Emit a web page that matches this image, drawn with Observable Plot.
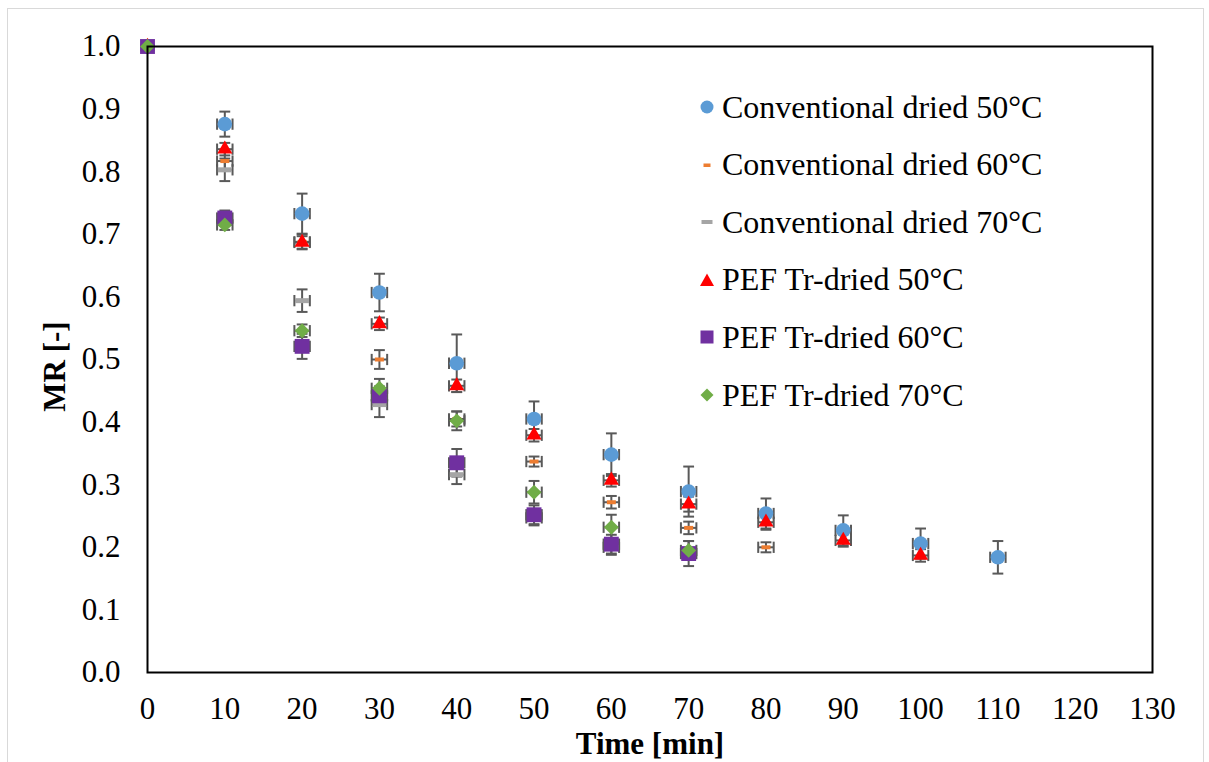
<!DOCTYPE html>
<html>
<head>
<meta charset="utf-8">
<script src="https://cdn.jsdelivr.net/npm/d3@7"></script>
<script src="https://cdn.jsdelivr.net/npm/@observablehq/plot@0.6"></script>
<style>
  html, body { margin: 0; padding: 0; background: #fff; }
  #wrap { position: relative; width: 1209px; height: 762px; font-family: "Liberation Serif", "Times New Roman", serif; }
  #outer { position: absolute; left: 7px; top: 8px; width: 1195px; height: 760px; border: 1px solid #d9d9d9; pointer-events: none; }
  #legend { position: absolute; left: 0; top: 0; }
  .item { position: absolute; left: 696px; height: 40px; display: flex; align-items: center; white-space: nowrap; font-size: 32px; color: #000; font-family: "Liberation Serif", "Times New Roman", serif; }
  .item svg { width: 22px; height: 22px; margin-right: 4px; }
</style>
</head>
<body>
<div id="wrap">
  <div id="chart"></div>
  <div id="legend"></div>
  <div id="outer"></div>
</div>
<script>
// ---- data ----
const times = [0, 10, 20, 30, 40, 50, 60, 70, 80, 90, 100, 110];
const seriesNames = [
  "Conventional dried 50°C",
  "Conventional dried 60°C",
  "Conventional dried 70°C",
  "PEF Tr-dried 50°C",
  "PEF Tr-dried 60°C",
  "PEF Tr-dried 70°C"
];
const conv50 = [1.0, 0.876, 0.733, 0.607, 0.494, 0.405, 0.348, 0.289, 0.254, 0.227, 0.206, 0.184];
const conv50Err = [0, 0.020, 0.032, 0.030, 0.046, 0.028, 0.034, 0.040, 0.024, 0.024, 0.024, 0.026];
const conv60 = [1.0, 0.817, 0.688, 0.500, 0.405, 0.337, 0.272, 0.231, 0.200];
const conv60Err = [0, 0.015, 0.012, 0.015, 0.012, 0.008, 0.010, 0.010, 0.008];
const conv70 = [1.0, 0.803, 0.594, 0.428, 0.316, 0.247, 0.200];
const conv70Err = [0, 0.018, 0.018, 0.020, 0.015, 0.012, 0.012];
const pef50 = [1.0, 0.836, 0.687, 0.557, 0.458, 0.379, 0.307, 0.269, 0.240, 0.211, 0.187];
const pef50Err = [0, 0.010, 0.010, 0.010, 0.010, 0.010, 0.010, 0.012, 0.012, 0.010, 0.010];
const pef60 = [1.0, 0.726, 0.521, 0.442, 0.335, 0.252, 0.205, 0.190];
const pef60Err = [0, 0.012, 0.020, 0.015, 0.022, 0.015, 0.015, 0.020];
const pef70 = [1.0, 0.715, 0.546, 0.454, 0.402, 0.288, 0.232, 0.195];
const pef70Err = [0, 0.008, 0.010, 0.015, 0.015, 0.018, 0.020, 0.015];
const timeErr = 1; // horizontal error (min)
const xTicks = d3.range(0, 131, 10);
const yTicks = d3.range(0, 11).map(i => i / 10);

// ---- styles ----
const colors = ["#5b9bd5", "#ed7d31", "#a5a5a5", "#ff0000", "#7030a0", "#70ad47"];
const dashOrange = { draw(c) { c.rect(-4.5, -2, 9, 4); } };
const dashGray = { draw(c) { c.rect(-7, -2.5, 14, 5); } };
const symbols = ["circle", dashOrange, dashGray, "triangle", "square", "diamond2"];
const radii = [7.3, 5, 5, 5.6, 8.4, 6.7];
const errColor = "#595959";
const serif = '"Liberation Serif", "Times New Roman", serif';

const values = [conv50, conv60, conv70, pef50, pef60, pef70];
const errors = [conv50Err, conv60Err, conv70Err, pef50Err, pef60Err, pef70Err];

const rows = values.flatMap((vals, s) => vals.map((v, i) => ({
  s, name: seriesNames[s], t: times[i], y: v, e: errors[s][i]
})));
const withErr = rows.filter(d => d.t > 0);

const capW = 0.7;   // cap half-width in minutes
const capH = 0.009; // side cap half-height in MR units

const marks = [
  // horizontal error bars
  Plot.link(withErr, {x1: d => d.t - timeErr, x2: d => d.t + timeErr, y1: "y", y2: "y", stroke: errColor, strokeWidth: 2}),
  Plot.link(withErr, {x1: d => d.t - timeErr, x2: d => d.t - timeErr, y1: d => d.y - capH, y2: d => d.y + capH, stroke: errColor, strokeWidth: 2}),
  Plot.link(withErr, {x1: d => d.t + timeErr, x2: d => d.t + timeErr, y1: d => d.y - capH, y2: d => d.y + capH, stroke: errColor, strokeWidth: 2}),
  // vertical error bars
  Plot.link(withErr, {x1: "t", x2: "t", y1: d => d.y - d.e, y2: d => d.y + d.e, stroke: errColor, strokeWidth: 2}),
  Plot.link(withErr, {x1: d => d.t - capW, x2: d => d.t + capW, y1: d => d.y + d.e, y2: d => d.y + d.e, stroke: errColor, strokeWidth: 2}),
  Plot.link(withErr, {x1: d => d.t - capW, x2: d => d.t + capW, y1: d => d.y - d.e, y2: d => d.y - d.e, stroke: errColor, strokeWidth: 2}),
];
seriesNames.forEach((n, s) => {
  marks.push(Plot.dot(rows.filter(d => d.s === s), {
    x: "t", y: "y", symbol: symbols[s], r: radii[s], fill: colors[s], stroke: "none"
  }));
});
marks.push(
  Plot.frame({stroke: "#000", strokeWidth: 2}),
  Plot.axisX({ticks: xTicks, tickSize: 0, tickPadding: 24, label: null, fontSize: 31, fontFamily: serif}),
  Plot.axisY({ticks: yTicks, tickSize: 0, tickPadding: 27, tickFormat: d3.format(".1f"), label: null, fontSize: 31, fontFamily: serif}),
  Plot.text(["Time [min]"], {frameAnchor: "bottom", text: d => d, dy: 72, fontSize: 31, fontWeight: "bold", fontFamily: serif, textAnchor: "middle", lineAnchor: "middle"}),
  Plot.text(["MR [-]"], {frameAnchor: "left", text: d => d, dx: -92, dy: 7, rotate: -90, fontSize: 31, fontWeight: "bold", fontFamily: serif, textAnchor: "middle", lineAnchor: "middle"})
);

const chart = Plot.plot({
  width: 1209,
  height: 762,
  marginLeft: 147,
  marginRight: 57,
  marginTop: 46,
  marginBottom: 90,
  style: {fontFamily: serif, color: "#000", background: "#fff", overflow: "visible"},
  x: {domain: [0, 130]},
  y: {domain: [0, 1]},
  marks
});
document.getElementById("chart").appendChild(chart);

// ---- legend ----
const legendSvg = [
  '<circle cx="11" cy="11" r="6.5" fill="' + colors[0] + '"/>',
  '<rect x="7.5" y="9.5" width="7" height="3.5" fill="' + colors[1] + '"/>',
  '<rect x="5.5" y="9" width="11" height="4" fill="' + colors[2] + '"/>',
  '<path d="M11,4.5 L18,17 L4,17 Z" fill="' + colors[3] + '"/>',
  '<rect x="4.5" y="4.5" width="13" height="13" fill="' + colors[4] + '"/>',
  '<path d="M11,4.5 L17.5,11 L11,17.5 L4.5,11 Z" fill="' + colors[5] + '"/>'
];
const legend = document.getElementById("legend");
seriesNames.forEach((n, i) => {
  const div = document.createElement("div");
  div.className = "item";
  div.style.top = (87 + i * 57.6) + "px";
  div.innerHTML = '<svg viewBox="0 0 22 22">' + legendSvg[i] + '</svg><span>' + n + '</span>';
  legend.appendChild(div);
});
</script>
</body>
</html>
